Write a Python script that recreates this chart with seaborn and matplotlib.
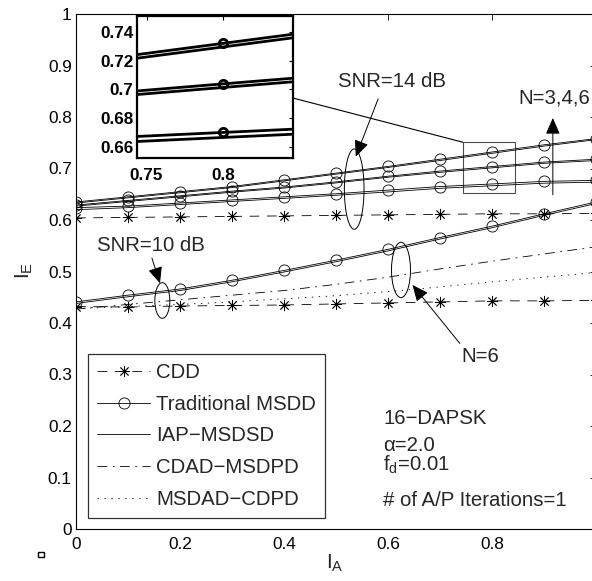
import matplotlib
matplotlib.use("Agg")
import matplotlib.pyplot as plt
import seaborn as sns
import pandas as pd
from matplotlib.patches import Ellipse, Rectangle, ConnectionPatch
from matplotlib.lines import Line2D

# ---------------- data ----------------
ia = [0.0, 0.1, 0.2, 0.3, 0.4, 0.5, 0.6, 0.7, 0.8, 0.9, 1.0]

# SNR = 14 dB, N = 6 / 4 / 3
msdd14_n6 = [0.635, 0.645, 0.655, 0.665, 0.678, 0.691, 0.704, 0.718, 0.732, 0.746, 0.758]
iap14_n6 = [0.633, 0.643, 0.653, 0.663, 0.676, 0.689, 0.702, 0.7155, 0.7295, 0.7435, 0.756]
msdd14_n4 = [0.629, 0.638, 0.647, 0.656, 0.664, 0.674, 0.685, 0.695, 0.7038, 0.7125, 0.718]
iap14_n4 = [0.627, 0.636, 0.645, 0.654, 0.662, 0.672, 0.683, 0.6925, 0.7013, 0.710, 0.7155]
msdd14_n3 = [0.624, 0.627, 0.633, 0.639, 0.645, 0.651, 0.658, 0.665, 0.670, 0.675, 0.677]
iap14_n3 = [0.620, 0.624, 0.630, 0.636, 0.642, 0.648, 0.6545, 0.6615, 0.6665, 0.6715, 0.6735]
cdd14 = [0.604, 0.605, 0.606, 0.607, 0.608, 0.609, 0.610, 0.611, 0.612, 0.612, 0.613]

# SNR = 10 dB, N = 6
msdd10 = [0.441, 0.454, 0.466, 0.483, 0.502, 0.522, 0.543, 0.566, 0.588, 0.612, 0.635]
iap10 = [0.438, 0.451, 0.463, 0.480, 0.499, 0.519, 0.540, 0.563, 0.585, 0.609, 0.632]
cdd10 = [0.432, 0.431, 0.433, 0.434, 0.435, 0.437, 0.439, 0.441, 0.443, 0.443, 0.444]
cdad10 = [0.427, 0.436, 0.445, 0.454, 0.463, 0.475, 0.489, 0.505, 0.520, 0.534, 0.548]
msdad10 = [0.428, 0.432, 0.436, 0.441, 0.447, 0.453, 0.461, 0.470, 0.480, 0.489, 0.498]

legend_labels = ["CDD", "Traditional MSDD", "IAP\u2212MSDSD", "CDAD\u2212MSDPD", "MSDAD\u2212CDPD"]
xticks = [0, 0.2, 0.4, 0.6, 0.8, 1.0]
xticklabels = ["0", "0.2", "0.4", "0.6", "0.8", "1"]
yticks = [0, 0.1, 0.2, 0.3, 0.4, 0.5, 0.6, 0.7, 0.8, 0.9, 1.0]
yticklabels = ["0", "0.1", "0.2", "0.3", "0.4", "0.5", "0.6", "0.7", "0.8", "0.9", "1"]
in_xticks = [0.75, 0.8]
in_xticklabels = ["0.75", "0.8"]
in_yticks = [0.66, 0.68, 0.70, 0.72, 0.74]
in_yticklabels = ["0.66", "0.68", "0.7", "0.72", "0.74"]

# ---------------- style ----------------
sns.set_style("white")
plt.rcParams["font.family"] = ["Liberation Sans", "DejaVu Sans"]
plt.rcParams["mathtext.fontset"] = "custom"
plt.rcParams["mathtext.rm"] = "Liberation Sans"
plt.rcParams["lines.scale_dashes"] = False
plt.rcParams["axes.edgecolor"] = "black"
plt.rcParams["axes.linewidth"] = 0.8

W, H = 592, 581
fig = plt.figure(figsize=(W / 100, H / 100), dpi=100)
ax = fig.add_axes([76 / W, (H - 529) / H, 520 / W, 515 / H])

LW = 0.6
dash_cdd = (0, (7, 5.5))
dash_dot = (0, (7, 4, 1.2, 4))
dotted = (0, (1, 4))
star = (8, 2, 0)

def draw(a, y, lw, ls="-", marker=None, ms=8, mew=0.6):
    kw = dict(x=ia, y=y, ax=a, color="k", lw=lw, linestyle=ls)
    if marker is not None:
        kw.update(marker=marker, ms=ms, mfc="none", mec="k", mew=mew)
    sns.lineplot(**kw)

def draw_all(a, lw, ms, mew, star_ms):
    for y in (iap14_n6, iap14_n4, iap14_n3, iap10):
        draw(a, y, lw)
    for y in (msdd14_n6, msdd14_n4, msdd14_n3, msdd10):
        draw(a, y, lw, marker="o", ms=ms, mew=mew)
    for y in (cdd14, cdd10):
        draw(a, y, lw, ls=dash_cdd, marker=star, ms=star_ms, mew=mew)
    draw(a, cdad10, lw, ls=dash_dot)
    draw(a, msdad10, lw, ls=dotted)

draw_all(ax, LW, 8, 0.6, 8)

ax.set_xlim(0, 1)
ax.set_ylim(0, 1)
ax.set_xticks(xticks)
ax.set_xticklabels(xticklabels)
ax.set_yticks(yticks)
ax.set_yticklabels(yticklabels)
ax.tick_params(direction="in", top=True, right=True, length=4, width=0.6,
               labelsize=12.4, colors="black")
ax.tick_params(axis="x", pad=6)
ax.tick_params(axis="y", pad=3)
for s in ax.spines.values():
    s.set_visible(True)
    s.set_color("black")
    s.set_linewidth(0.8)

ax.set_xlabel(r"$\mathregular{I_A}$", fontsize=15)
ax.set_ylabel(r"$\mathregular{I_E}$", fontsize=15)
ax.xaxis.set_label_coords(0.498, -0.046)
ax.yaxis.set_label_coords(-0.079, 0.503)

# legend
handles = [
    Line2D([], [], color="k", lw=LW, linestyle=dash_cdd, marker=star, ms=8, mfc="none", mec="k", mew=0.6),
    Line2D([], [], color="k", lw=LW, marker="o", ms=8, mfc="none", mec="k", mew=0.6),
    Line2D([], [], color="k", lw=LW),
    Line2D([], [], color="k", lw=LW, linestyle=dash_dot),
    Line2D([], [], color="k", lw=LW, linestyle=dotted),
]
leg = ax.legend(handles, legend_labels, loc="lower left", bbox_to_anchor=(0.023, 0.0214),
                borderaxespad=0, frameon=True, fancybox=False, fontsize=14.7,
                handlelength=2.6, handletextpad=0.3, labelspacing=0.62, borderpad=0.45)
leg.get_frame().set_edgecolor("black")
leg.get_frame().set_linewidth(0.9)

# annotations
fs = 14.7
ax.text(0.608, 0.868, "SNR=14 dB", fontsize=fs, ha="center", va="center")
ax.text(0.919, 0.837, "N=3,4,6", fontsize=fs, ha="center", va="center")
ax.text(0.144, 0.551, "SNR=10 dB", fontsize=fs, ha="center", va="center")
ax.text(0.777, 0.3346, "N=6", fontsize=fs, ha="center", va="center")
ax.text(0.591, 0.215, "16\u2212DAPSK", fontsize=fs, ha="left", va="center")
ax.text(0.591, 0.163, "\u03b1=2.0", fontsize=fs, ha="left", va="center")
ax.text(0.591, 0.125, r"f$_{\mathregular{d}}$=0.01", fontsize=fs, ha="left", va="center")
ax.text(0.591, 0.0563, "# of A/P Iterations=1", fontsize=fs, ha="left", va="center")

for (cx, cy, w, h) in [(0.535, 0.660, 0.0378, 0.156), (0.166, 0.4437, 0.0288, 0.0693),
                       (0.625, 0.503, 0.0365, 0.1075)]:
    ax.add_patch(Ellipse((cx, cy), w, h, fill=False, ec="k", lw=0.7))

ap = dict(arrowstyle="-|>,head_length=0.5,head_width=0.22", color="k", lw=0.7,
          mutation_scale=20, shrinkA=0, shrinkB=0)
ax.annotate("", xy=(0.538, 0.723), xytext=(0.581, 0.835), arrowprops=ap)
ax.annotate("", xy=(0.917, 0.798), xytext=(0.917, 0.649), arrowprops=ap)
ax.annotate("", xy=(0.1615, 0.477), xytext=(0.146, 0.526), arrowprops=ap)
ax.annotate("", xy=(0.647, 0.474), xytext=(0.738, 0.3605), arrowprops=ap)

# zoom rectangle
in_xlim = (0.744, 0.845)
in_ylim = (0.652, 0.751)
ax.add_patch(Rectangle((in_xlim[0], in_ylim[0]), in_xlim[1] - in_xlim[0], in_ylim[1] - in_ylim[0],
                       fill=False, ec="0.3", lw=0.8))

# inset
axin = fig.add_axes([137.3 / W, (H - 158.3) / H, (292.7 - 137.3) / W, (158.3 - 16) / H])
draw_all(axin, 2.0, 6, 2.0, 6)
axin.set_xlim(*in_xlim)
axin.set_ylim(*in_ylim)
axin.set_xticks(in_xticks)
axin.set_xticklabels(in_xticklabels)
axin.set_yticks(in_yticks)
axin.set_yticklabels(in_yticklabels)
axin.set_xlabel("")
axin.set_ylabel("")
axin.tick_params(direction="in", top=True, right=True, length=3, width=0.8,
                 labelsize=12.3, colors="black")
axin.tick_params(axis="x", pad=7)
axin.tick_params(axis="y", pad=3)
for lab in axin.get_xticklabels() + axin.get_yticklabels():
    lab.set_fontweight("bold")
for s in axin.spines.values():
    s.set_visible(True)
    s.set_color("black")
    s.set_linewidth(1.6)

con = ConnectionPatch(xyA=(1.0, 0.424), coordsA=axin.transAxes,
                      xyB=(in_xlim[0], in_ylim[1]), coordsB=ax.transData,
                      color="k", lw=0.8)
fig.add_artist(con)

# small stray square mark at bottom left
fig.add_artist(Rectangle((38.3 / W, (H - 557.3) / H), 5.5 / W, 5.5 / H,
                         transform=fig.transFigure, fill=False, ec="k", lw=1.0))

fig.savefig("out.png", dpi=100)
